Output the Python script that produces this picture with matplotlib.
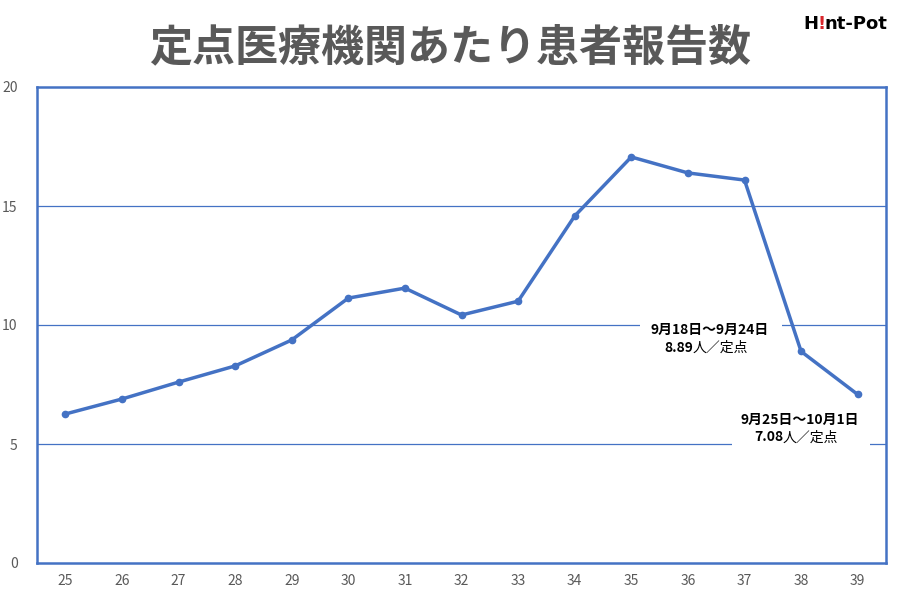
import matplotlib
matplotlib.use("Agg")
import matplotlib.pyplot as plt
import matplotlib.patches as patches

plt.rcParams['font.family'] = ['Noto Sans CJK JP', 'DejaVu Sans']

weeks = [25, 26, 27, 28, 29, 30, 31, 32, 33, 34, 35, 36, 37, 38, 39]
values = [6.26, 6.89, 7.60, 8.28, 9.37, 11.13, 11.55, 10.42, 11.00,
          14.58, 17.06, 16.39, 16.09, 8.89, 7.08]
yticks = [0, 5, 10, 15, 20]

title = "定点医療機関あたり患者報告数"
note1_date = "9月18日～9月24日"
note1_val = "8.89"
note2_date = "9月25日～10月1日"
note2_val = "7.08"
unit = "人／定点"

blue = "#4472C4"
gray = "#595959"

fig = plt.figure(figsize=(9, 6.01), dpi=100)
ax = fig.add_axes([37 / 900, 1 - 563 / 601, (886 - 37) / 900, (563 - 87) / 601])

# gridlines
for y in yticks[1:-1]:
    ax.axhline(y, color=blue, lw=0.9, zorder=1)

ax.plot(weeks, values, color=blue, lw=2.5, marker="o", ms=4.5, zorder=3)

ax.set_xlim(24.5, 39.5)
ax.set_ylim(0, 20)
ax.set_xticks(weeks)
ax.set_yticks(yticks)
ax.tick_params(length=0, labelsize=10, colors=gray, pad=8)
ax.tick_params(axis="y", pad=14)
for s in ax.spines.values():
    s.set_color(blue)
    s.set_linewidth(1.8)

# annotation boxes (white background hides the gridline)
def note(x, y, date, val, x0, x1):
    ax.add_patch(patches.Rectangle((x0, y - 0.8), x1 - x0, 1.6,
                                   facecolor="white", edgecolor="none", zorder=2))
    ax.text(x, y + 0.38, date, ha="center", va="center", fontsize=10,
            fontweight="bold", color="black", zorder=5)
    ax.text(x - 0.3, y - 0.37, val, ha="right", va="center", fontsize=10,
            fontweight="bold", color="black", zorder=5)
    ax.text(x - 0.3, y - 0.37, unit, ha="left", va="center", fontsize=10,
            color="black", zorder=5)

note(36.39, 9.41, note1_date, note1_val, 35.15, 37.66)
note(37.98, 5.65, note2_date, note2_val, 36.78, 39.22)

fig.text(0.5, 0.922, title, ha="center", va="center", fontsize=31,
         fontweight="bold", color=gray)

# logo
renderer = fig.canvas.get_renderer()
x0 = 803 / 900
for part, col in [("H", "black"), ("!", "#d9262c"), ("nt-Pot", "black")]:
    t = fig.text(x0, 1 - 24 / 601, part, ha="left", va="center", fontsize=13,
                 fontweight="bold", color=col, family="DejaVu Sans")
    bb = t.get_window_extent(renderer)
    x0 += bb.width / 900 - 0.001

fig.savefig("out.png", dpi=100, facecolor="white")
